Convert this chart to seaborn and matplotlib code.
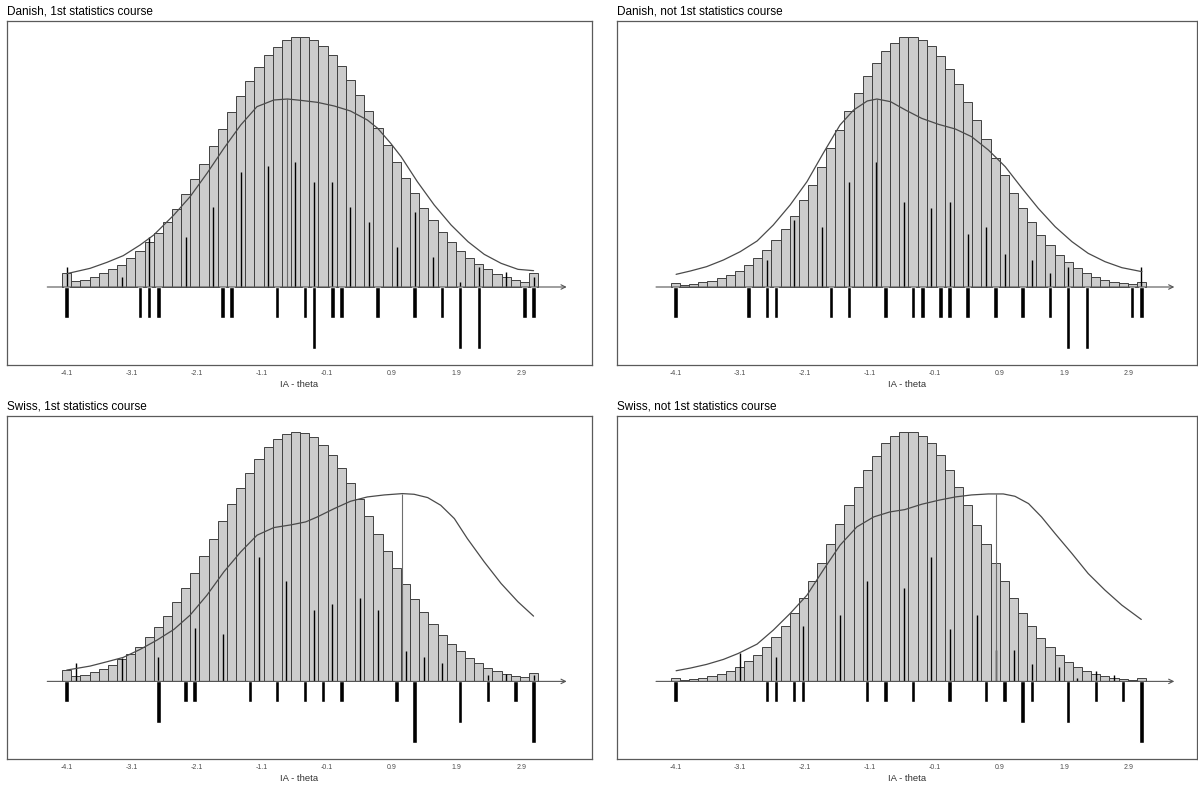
import numpy as np
import pandas as pd
import matplotlib
matplotlib.use("Agg")
import matplotlib.pyplot as plt
import seaborn as sns

# ---------------- data ----------------
TITLES = ["Danish, 1st statistics course", "Danish, not 1st statistics course",
          "Swiss, 1st statistics course", "Swiss, not 1st statistics course"]
TICKS = [-4.1, -3.1, -2.1, -1.1, -0.1, 0.9, 1.9, 2.9]
TICK_LABELS = ["-4.1", "-3.1", "-2.1", "-1.1", "-0.1", "0.9", "1.9", "2.9"]
X_LABEL = "IA - theta"

BIN_START = -4.10   # centre of first person bin
BIN_WIDTH = 0.141
N_BINS = 52

# person distribution (bar heights)
PERSONS_DK1 = [41, 17, 22, 30, 41, 53, 67, 86, 107, 134, 161, 196, 234, 278, 323, 370, 422, 473, 524, 572,
               617, 659, 695, 720, 740, 750, 750, 742, 722, 696, 664, 621, 576, 528, 476, 426, 376, 326,
               281, 237, 200, 164, 135, 109, 86, 68, 53, 40, 30, 22, 16, 41]
PERSONS_DK2 = [11, 5, 9, 14, 19, 26, 37, 49, 66, 86, 110, 141, 174, 214, 260, 306, 361, 416, 470, 528,
               582, 632, 673, 708, 732, 749, 751, 742, 722, 693, 653, 608, 556, 501, 444, 388, 335, 283,
               236, 194, 156, 125, 97, 75, 58, 43, 31, 22, 16, 12, 8, 16]
PERSONS_CH1 = [34, 16, 20, 28, 38, 49, 66, 82, 104, 132, 162, 196, 237, 279, 326, 377, 427, 482, 533, 582,
               627, 669, 704, 728, 744, 750, 746, 734, 710, 679, 641, 597, 549, 496, 444, 392, 340, 294,
               248, 207, 171, 138, 112, 90, 69, 54, 40, 30, 21, 17, 13, 26]
PERSONS_CH2 = [9, 5, 8, 11, 16, 22, 32, 43, 60, 80, 103, 132, 167, 206, 250, 302, 356, 414, 473, 531,
               585, 634, 678, 715, 738, 750, 749, 738, 715, 679, 635, 585, 531, 471, 414, 356, 301, 251,
               206, 167, 131, 103, 80, 59, 43, 32, 22, 16, 11, 8, 5, 9]

# item locations (one entry per item)
ITEMS_DK1 = [-4.10, -2.97, -2.83, -2.69, -1.70, -1.56, -0.86, -0.43, -0.29, -0.29, -0.01, 0.13, 0.69,
             1.26, 1.68, 1.96, 1.96, 2.25, 2.25, 2.95, 3.09]
ITEMS_DK2 = [-4.10, -2.97, -2.69, -2.55, -1.70, -1.42, -0.86, -0.43, -0.29, -0.01, 0.13, 0.41, 0.84,
             1.26, 1.68, 1.96, 1.96, 2.25, 2.25, 2.95, 3.09]
ITEMS_CH1 = [-4.10, -2.69, -2.69, -2.27, -2.13, -1.28, -0.86, -0.43, -0.15, 0.13, 0.98, 1.26, 1.26,
             1.26, 1.96, 1.96, 2.39, 2.81, 3.09, 3.09, 3.09]
ITEMS_CH2 = [-4.10, -2.69, -2.55, -2.27, -2.13, -1.14, -0.86, -0.43, 0.13, 0.69, 0.98, 1.26, 1.26,
             1.40, 1.96, 1.96, 2.39, 2.81, 3.09, 3.09, 3.09]

# threshold spikes
THR_X_DK1 = [-4.10, -3.25, -2.83, -2.27, -1.84, -1.42, -1.00, -0.58, -0.29, -0.01, 0.27, 0.55, 0.98,
             1.26, 1.54, 1.96, 2.25, 2.67, 3.09]
THR_H_DK1 = [60, 30, 151, 151, 241, 346, 363, 376, 316, 316, 241, 196, 121, 225, 91, 16, 61, 46, 31]
THR_X_DK2 = [-2.69, -2.27, -1.84, -1.42, -1.00, -0.58, -0.15, 0.13, 0.41, 0.69, 0.98, 1.40, 1.68, 1.96, 3.09]
THR_H_DK2 = [80, 200, 179, 316, 375, 256, 237, 256, 159, 179, 100, 80, 41, 60, 60]
THR_X_CH1 = [-3.96, -3.25, -2.69, -2.13, -1.70, -1.14, -0.72, -0.29, -0.01, 0.41, 0.69, 1.12, 1.40,
             1.68, 2.39, 2.67, 3.09]
THR_H_CH1 = [54, 69, 72, 161, 143, 375, 303, 214, 233, 251, 214, 90, 72, 54, 18, 21, 18]
THR_X_CH2 = [-3.11, -2.55, -2.13, -1.56, -1.14, -0.58, -0.15, 0.13, 0.55, 0.84, 1.12, 1.40, 1.82,
             2.10, 2.39, 2.67]
THR_H_CH2 = [84, 74, 167, 199, 301, 282, 375, 157, 199, 94, 94, 52, 42, 11, 30, 20]

# curves
CURVE_X_DK1 = [-4.10, -3.74, -3.48, -3.23, -2.97, -2.76, -2.45, -2.20, -1.94, -1.68, -1.42, -1.17, -0.91,
               -0.70, -0.50, -0.24, 0.02, 0.27, 0.53, 0.69, 0.89, 1.05, 1.30, 1.56, 1.82, 2.08, 2.33,
               2.59, 2.85, 3.09]
CURVE_Y_DK1 = [40, 56, 74, 94, 126, 156, 216, 271, 341, 416, 486, 541, 561, 564, 560, 554, 543, 528, 501,
               476, 431, 391, 316, 246, 186, 136, 98, 71, 53, 49]
CURVE_X_DK2 = [-4.09, -3.87, -3.62, -3.36, -3.10, -2.84, -2.59, -2.33, -2.07, -1.82, -1.56, -1.35, -1.14,
               -0.99, -0.78, -0.55, -0.30, -0.04, 0.22, 0.47, 0.73, 0.99, 1.25, 1.50, 1.76, 2.02, 2.27,
               2.53, 2.79, 3.10]
CURVE_Y_DK2 = [38, 48, 61, 81, 106, 138, 186, 246, 316, 401, 486, 531, 558, 564, 556, 531, 506, 488, 474,
               451, 411, 361, 296, 236, 181, 136, 101, 76, 58, 46]
CURVE_X_CH1 = [-4.10, -3.74, -3.48, -3.23, -2.97, -2.71, -2.45, -2.20, -1.94, -1.68, -1.42, -1.17, -0.91,
               -0.65, -0.42, -0.24, 0.02, 0.27, 0.53, 0.79, 1.07, 1.25, 1.46, 1.66, 1.87, 2.07, 2.33,
               2.59, 2.85, 3.09]
CURVE_Y_CH1 = [34, 46, 59, 72, 96, 124, 156, 199, 259, 329, 389, 439, 462, 470, 479, 494, 519, 541, 554,
               560, 564, 562, 552, 529, 489, 429, 359, 294, 239, 196]
CURVE_X_CH2 = [-4.09, -3.87, -3.62, -3.36, -3.13, -2.84, -2.59, -2.33, -2.07, -1.82, -1.56, -1.30, -1.04,
               -0.79, -0.56, -0.30, -0.04, 0.22, 0.47, 0.73, 0.96, 1.14, 1.35, 1.55, 1.76, 2.02, 2.27,
               2.53, 2.79, 3.09]
CURVE_Y_CH2 = [32, 40, 51, 66, 84, 112, 154, 204, 259, 334, 409, 464, 494, 509, 516, 532, 544, 554, 560,
               563, 563, 556, 534, 494, 444, 384, 324, 274, 229, 186]

PEAK_X = [-0.70, -0.99, 1.07, 0.85]

# ---------------- style ----------------
sns.set_theme(style="white")
plt.rcParams["font.family"] = ["Liberation Sans", "DejaVu Sans"]

W, H = 1198, 787
fig = plt.figure(figsize=(W / 100, H / 100), dpi=100)

# panel boxes in pixels: (left, top, right, bottom)
BOXES = [(7, 21, 592, 365), (616.5, 21, 1197, 365), (7, 415.7, 592, 759.3), (616.5, 415.7, 1197, 759.3)]
XLIMS = [(-5.02, 3.99), (-5.01, 3.95), (-5.02, 3.99), (-5.01, 3.95)]
YLIM = (-234, 798)
ITEM_DEPTH = 186

panels = [
    (PERSONS_DK1, ITEMS_DK1, THR_X_DK1, THR_H_DK1, CURVE_X_DK1, CURVE_Y_DK1),
    (PERSONS_DK2, ITEMS_DK2, THR_X_DK2, THR_H_DK2, CURVE_X_DK2, CURVE_Y_DK2),
    (PERSONS_CH1, ITEMS_CH1, THR_X_CH1, THR_H_CH1, CURVE_X_CH1, CURVE_Y_CH1),
    (PERSONS_CH2, ITEMS_CH2, THR_X_CH2, THR_H_CH2, CURVE_X_CH2, CURVE_Y_CH2),
]

centers = BIN_START + BIN_WIDTH * np.arange(N_BINS)
lo = BIN_START - BIN_WIDTH / 2
hi = BIN_START + BIN_WIDTH * (N_BINS - 0.5)

for i, (persons, items, tx, th, cx, cy) in enumerate(panels):
    l, t, r, b = BOXES[i]
    ax = fig.add_axes([l / W, (H - b) / H, (r - l) / W, (b - t) / H])

    sns.histplot(x=centers, weights=persons, bins=N_BINS, binrange=(lo, hi),
                 color="#cccccc", edgecolor="#404040", linewidth=0.7, alpha=1.0, ax=ax, zorder=1)

    # thresholds
    ax.vlines(tx, 0, th, color="black", linewidth=1.0, zorder=3)

    # peak marker
    peak_h = np.interp(PEAK_X[i], cx, cy)
    ax.vlines([PEAK_X[i]], 0, peak_h, color="#6e6e6e", linewidth=0.8, zorder=3)

    # curve
    sns.lineplot(x=cx, y=cy, ax=ax, color="#4a4a4a", linewidth=0.9, zorder=4)

    # items below axis
    counts = pd.Series(items).value_counts()
    unit = ITEM_DEPTH / counts.max()
    ax.bar(counts.index.values, -counts.values * unit, width=0.07, color="black", zorder=3)

    # axis arrow
    ax.annotate("", xy=(3.60, 0), xytext=(-4.40, 0),
                arrowprops=dict(arrowstyle="->", color="#555555", lw=0.8,
                                shrinkA=0, shrinkB=0, mutation_scale=8), zorder=5)

    ax.set_xlim(*XLIMS[i])
    ax.set_ylim(*YLIM)
    ax.set_yticks([])
    ax.set_xticks(TICKS)
    ax.set_xticklabels(TICK_LABELS, fontsize=5, color="#4d4d4d")
    ax.tick_params(axis="x", length=0, pad=3.5)
    ax.set_ylabel("")
    ax.set_xlabel(X_LABEL, fontsize=6.8, color="#333333", labelpad=2)
    ax.set_title(TITLES[i], loc="left", fontsize=8.5, pad=4.5, color="black")
    for s in ax.spines.values():
        s.set_visible(True)
        s.set_color("#5a5a5a")
        s.set_linewidth(0.9)

fig.savefig("out.png", dpi=100)
